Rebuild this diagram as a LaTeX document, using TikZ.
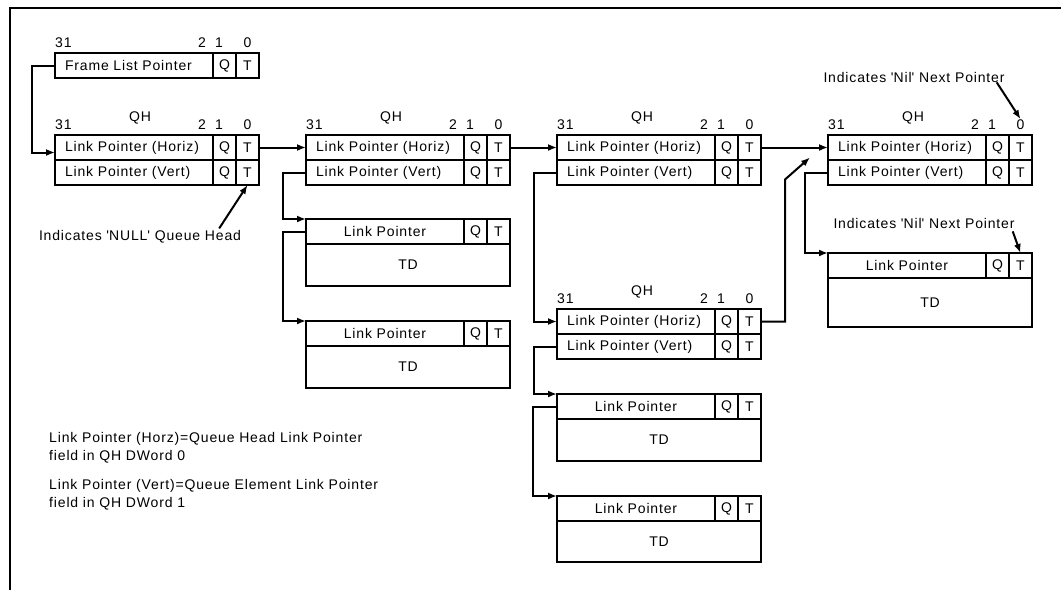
\documentclass[tikz,border=0pt]{standalone}
\usepackage{fontspec}
\setmainfont{Liberation Sans}[LetterSpace=6]
\usetikzlibrary{arrows.meta, positioning, calc}

\begin{document}
\begin{tikzpicture}[x=1pt, y=-1pt,
  txt/.style={inner sep=0pt, font=\fontsize{14}{18}\selectfont},
  cell/.style={txt, rectangle, draw, line width=1.4pt, outer sep=0pt, minimum height=25pt},
  lp/.style={cell, inner xsep=10pt, text width=138pt, align=left},
  tdlp/.style={cell, inner xsep=10pt, text width=138pt, align=center},
  qt/.style={cell, minimum width=23pt},
  tdbody/.style={cell, minimum width=204pt},
  frame/.style={line width=2.8pt},
  link/.style={line width=2pt, -{Latex[length=9pt,width=7pt]}}
]
  \useasboundingbox (0,0) rectangle (1061,590);
  \draw[frame] (10,590) -- (10,8) -- (1061,8);

  % frame list entry
  \node[lp, anchor=north west] (flp) at (55,53) {Frame List Pointer};
  \node[qt, right=0pt of flp] (flp-q) {Q};
  \node[qt, right=0pt of flp-q] (flp-t) {T};
  \draw[frame] (flp.north west) rectangle (flp-t.south east);
  \node[txt, anchor=base west] (flp-b31) at ([yshift=6pt]flp.north west) {31};
  \node[txt, anchor=base] (flp-b2) at ([xshift=-11pt,yshift=6pt]flp-q.north west) {2};
  \node[txt, anchor=base] (flp-b1) at ([xshift=6pt,yshift=6pt]flp-q.north west) {1};
  \node[txt, anchor=base] (flp-b0) at ([yshift=6pt]flp-t.north) {0};

  % queue heads
  \foreach \n/\x/\y in {qa/55/135, qb/306/135, qc/557/135, qd/557/309, qe/828/135} {
    \node[lp, anchor=north west] (\n-h) at (\x,\y) {Link Pointer (Horiz)};
    \node[qt, right=0pt of \n-h] (\n-hq) {Q};
    \node[qt, right=0pt of \n-hq] (\n-ht) {T};
    \node[lp, below=0pt of \n-h] (\n-v) {Link Pointer (Vert)};
    \node[qt, right=0pt of \n-v] (\n-vq) {Q};
    \node[qt, right=0pt of \n-vq] (\n-vt) {T};
    \draw[frame] (\n-h.north west) rectangle (\n-vt.south east);
    \node[txt, anchor=base] (\n-qh) at ([xshift=85pt,yshift=14pt]\n-h.north west) {QH};
    \node[txt, anchor=base west] (\n-b31) at ([yshift=6pt]\n-h.north west) {31};
    \node[txt, anchor=base] (\n-b2) at ([xshift=-11pt,yshift=6pt]\n-hq.north west) {2};
    \node[txt, anchor=base] (\n-b1) at ([xshift=6pt,yshift=6pt]\n-hq.north west) {1};
    \node[txt, anchor=base] (\n-b0) at ([yshift=6pt]\n-ht.north) {0};
  }

  % transfer descriptors
  \foreach \n/\x/\y/\h in {ta/306/219/42, tb/306/321/42, tc/557/394/42, td/557/496/41, te/828/253/49} {
    \node[tdlp, anchor=north west] (\n-l) at (\x,\y) {Link Pointer};
    \node[qt, right=0pt of \n-l] (\n-q) {Q};
    \node[qt, right=0pt of \n-q] (\n-t) {T};
    \node[tdbody, minimum height=\h pt, anchor=north west] (\n-d) at (\n-l.south west) {TD};
    \draw[frame] (\n-l.north west) rectangle (\n-d.south east);
    \draw[frame] (\n-d.north west) -- (\n-d.north east);
  }

  \coordinate (qd-tip) at ($(qe-h.west)+(-18,10)$);

  \draw[link] (flp.west) -- ++(-23,0) |- ([yshift=-5pt]qa-h.west);
  \draw[link] (qa-ht.east) -- (qb-h.west);
  \draw[link] (qb-ht.east) -- (qc-h.west);
  \draw[link] (qc-ht.east) -- (qe-h.west);
  \draw[link] (qb-v.west) -- ++(-23,0) |- (ta-l.north west);
  \draw[link] (ta-l.west) -- ++(-23,0) |- (tb-l.north west);
  \draw[link] (qc-v.west) -- ++(-23,0) |- (qd-h.west);
  \draw[link] (qd-v.west) -- ++(-23,0) |- (tc-l.north west);
  \draw[link] (tc-l.west) -- ++(-24,0) |- (td-l.north west);
  \draw[link] (qd-ht.east) -- ++(24,0) -- ++(0,-142) -- (qd-tip);
  \draw[link] (qe-v.west) -- ++(-23,0) |- (te-l.north west);

  % notes
  \node[txt] (nullnote) at (140,237) {Indicates \textquotesingle NULL\textquotesingle\ Queue Head};
  \draw[link] ([xshift=-22pt,yshift=2pt]nullnote.north east) -- (qa-vt.south);
  \node[txt] (nilqh) at (914,77) {Indicates \textquotesingle Nil\textquotesingle\ Next Pointer};
  \draw[link] ([xshift=-8pt]nilqh.south east) -- (qe-b0.north);
  \node[txt] (niltd) at (924,223) {Indicates \textquotesingle Nil\textquotesingle\ Next Pointer};
  \draw[link] ([xshift=-2pt,yshift=-3pt]niltd.south east) -- (te-t.north);

  \node[txt, anchor=north west, align=left] (horznote) at (49,432) {Link Pointer (Horz)=Queue Head Link Pointer\\field in QH DWord 0};
  \node[txt, anchor=north west, align=left] (vertnote) at (49,479) {Link Pointer (Vert)=Queue Element Link Pointer\\field in QH DWord 1};
\end{tikzpicture}
\end{document}
